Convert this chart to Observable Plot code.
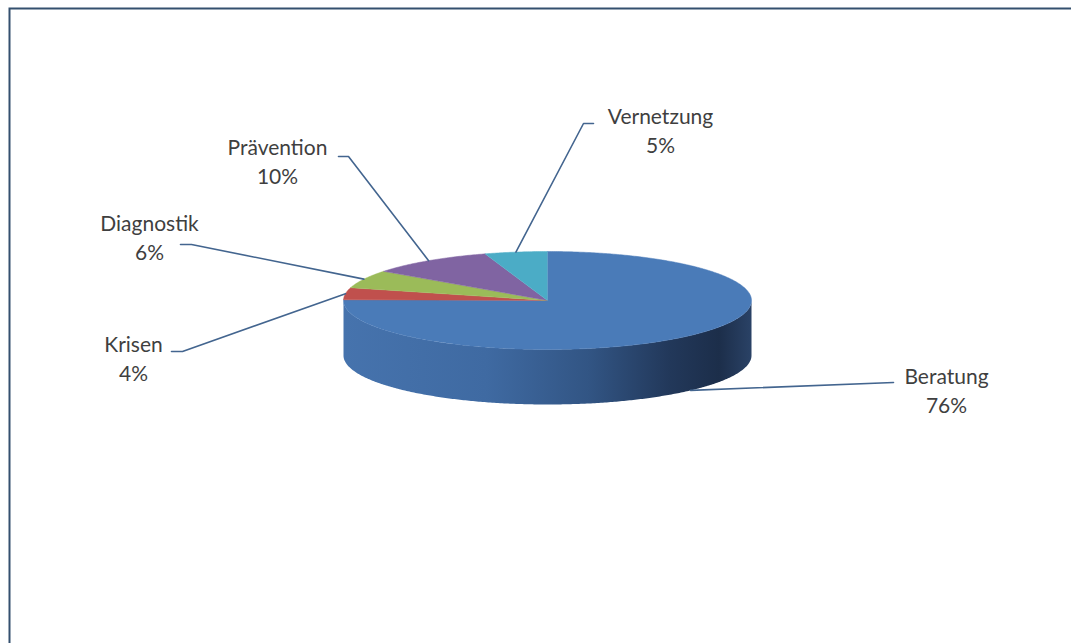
<!DOCTYPE html>
<html>
<head>
<meta charset="utf-8">
<script src="https://cdn.jsdelivr.net/npm/d3@7"></script>
<script src="https://cdn.jsdelivr.net/npm/@observablehq/plot@0.6"></script>
<style>
  html, body { margin: 0; padding: 0; background: #ffffff; }
  #chart { width: 1071px; height: 643px; overflow: hidden; }
</style>
</head>
<body>
<div id="chart"></div>
<script>
// ---- data ----
const categories = ["Beratung", "Krisen", "Diagnostik", "Prävention", "Vernetzung"];
const values = [76, 4, 6, 10, 5];
const percentLabels = ["76%", "4%", "6%", "10%", "5%"];

// ---- styles ----
const sliceColors = ["#4a7bb8", "#c0504d", "#9bbb59", "#8064a2", "#4bacc6"];

// ---- layout ----
const W = 1071, H = 643;
const geo = {cx: 547, cy: 300, rx: 204, ry: 49, depth: 55};
// label text centre and the end of the leader stub next to the text (layout only)
const labelLayout = [
  {tx: 946, ty: 389, sx: 893, sy: 382, stub: 0},
  {tx: 133, ty: 357, sx: 171, sy: 351, stub: 11},
  {tx: 149, ty: 236, sx: 180, sy: 244, stub: 11},
  {tx: 277, ty: 160, sx: 338, sy: 156, stub: 10},
  {tx: 660, ty: 129, sx: 593, sy: 123, stub: -10}
];

const pt = (a, dy = 0) => [geo.cx + geo.rx * Math.sin(a), geo.cy - geo.ry * Math.cos(a) + dy];

const arcs = d3.pie().sort(null).startAngle(0).endAngle(2 * Math.PI)(values);

// top-face polygons
const slicePts = [];
arcs.forEach((a, i) => {
  slicePts.push({key: categories[i], x: geo.cx, y: geo.cy});
  const n = Math.max(4, Math.ceil((a.endAngle - a.startAngle) / 0.01));
  for (let k = 0; k <= n; k++) {
    const t = a.startAngle + (a.endAngle - a.startAngle) * k / n;
    const [x, y] = pt(t);
    slicePts.push({key: categories[i], x, y});
  }
});

// visible (front) side: angles between PI/2 and 3PI/2, belonging to each slice
const sidePts = [];
arcs.forEach((a, i) => {
  const s = Math.max(a.startAngle, Math.PI / 2), e = Math.min(a.endAngle, 3 * Math.PI / 2);
  if (e <= s) return;
  const n = Math.ceil((e - s) / 0.01);
  const top = [], bot = [];
  for (let k = 0; k <= n; k++) {
    const t = s + (e - s) * k / n;
    top.push(pt(t)); bot.push(pt(t, geo.depth));
  }
  bot.reverse();
  [...top, ...bot].forEach(([x, y]) => sidePts.push({key: categories[i], x, y}));
});

// leader lines
const leaderPts = [];
arcs.forEach((a, i) => {
  const mid = (a.startAngle + a.endAngle) / 2;
  const front = Math.cos(mid) < 0;
  const [px, py] = pt(mid, front ? geo.depth : 0);
  const L = labelLayout[i];
  leaderPts.push({key: categories[i], x: L.sx, y: L.sy});
  if (L.stub) leaderPts.push({key: categories[i], x: L.sx + L.stub, y: L.sy});
  leaderPts.push({key: categories[i], x: px, y: py});
});

const labels = categories.map((c, i) => ({
  text: c + "\n" + percentLabels[i], x: labelLayout[i].tx, y: labelLayout[i].ty
}));

const colorOf = Object.fromEntries(categories.map((c, i) => [c, sliceColors[i]]));

const chart = Plot.plot({
  width: W,
  height: H,
  margin: 0,
  style: {background: "#ffffff", fontFamily: "Lato, 'Open Sans', sans-serif"},
  x: {domain: [0, W], range: [0, W], axis: null},
  y: {domain: [0, H], range: [0, H], axis: null},
  marks: [
    Plot.frame({stroke: "#34506f", strokeWidth: 2, insetLeft: 9, insetTop: 8, insetRight: -20, insetBottom: -20}),
    ...categories.filter(c => sidePts.some(d => d.key === c)).map(c =>
      Plot.line(sidePts.filter(d => d.key === c), {
        x: "x", y: "y", fill: c === "Beratung" ? "url(#sideGrad)" : d3.color(colorOf[c]).darker(0.6) + "",
        stroke: "none", curve: "linear"
      })
    ),
    ...categories.map(c =>
      Plot.line(slicePts.filter(d => d.key === c), {
        x: "x", y: "y", fill: colorOf[c], stroke: colorOf[c], strokeWidth: 0.5, curve: "linear"
      })
    ),
    Plot.line(leaderPts, {x: "x", y: "y", z: "key", stroke: "#43658f", strokeWidth: 1.6, curve: "linear"}),
    Plot.text(labels, {
      x: "x", y: "y", text: "text", fontSize: 21, lineHeight: 1.38, fill: "#3f3f3f", textAnchor: "middle"
    })
  ]
});

// gradient for the curved side of the pie
const svgNS = "http://www.w3.org/2000/svg";
const defs = document.createElementNS(svgNS, "defs");
const grad = document.createElementNS(svgNS, "linearGradient");
grad.setAttribute("id", "sideGrad");
grad.setAttribute("gradientUnits", "userSpaceOnUse");
grad.setAttribute("x1", geo.cx - geo.rx);
grad.setAttribute("x2", geo.cx + geo.rx);
grad.setAttribute("y1", 0);
grad.setAttribute("y2", 0);
[["0%", "#4673ad"], ["35%", "#3f6aa2"], ["60%", "#325584"], ["80%", "#22385a"], ["92%", "#1c2e4a"], ["100%", "#2a4266"]]
  .forEach(([o, c]) => {
    const s = document.createElementNS(svgNS, "stop");
    s.setAttribute("offset", o);
    s.setAttribute("stop-color", c);
    grad.appendChild(s);
  });
defs.appendChild(grad);
chart.insertBefore(defs, chart.firstChild);

document.getElementById("chart").appendChild(chart);
</script>
</body>
</html>
